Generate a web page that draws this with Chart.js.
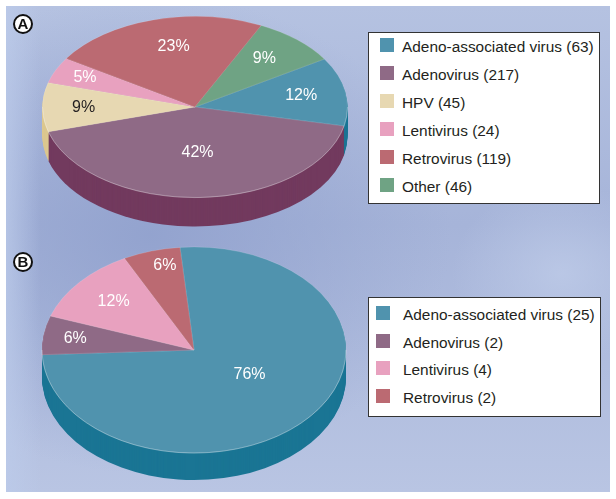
<!DOCTYPE html>
<html>
<head>
<meta charset="utf-8">
<title>Vector pies</title>
<script src="https://cdn.jsdelivr.net/npm/chart.js@4"></script>
<style>
  html, body { margin: 0; padding: 0; background: #fff; overflow: hidden; }
  body { width: 616px; height: 499px; position: relative; font-family: "Liberation Sans", Arial, sans-serif; }
  #panel {
    position: absolute; left: 6px; top: 6px; width: 604px; height: 486px;
    background:
      linear-gradient(90deg, rgba(188,203,234,.75), rgba(188,203,234,0) 34px),
      radial-gradient(ellipse 110px 90px at 92% 55%, rgba(190,203,232,.8), rgba(190,203,232,0) 100%),
      radial-gradient(ellipse 300px 240px at 24% 47%, rgba(146,162,206,.95), rgba(146,162,206,0) 100%),
      linear-gradient(180deg, #b5c2e1 0%, #a6b4d9 45%, #b9c5e3 100%);
  }
  canvas { position: absolute; left: 0; top: 0; }
  .legend { position: absolute; background: #fff; border: 1px solid #333; box-sizing: border-box; }
  .swatch { position: absolute; width: 14px; height: 14px; }
  .entry { position: absolute; font-size: 15.4px; line-height: 18px; color: #231f20; white-space: nowrap; }
  .tag {
    position: absolute; width: 20px; height: 20px; box-sizing: border-box; border-radius: 50%;
    background: #fff; border: 2px solid #111; color: #111; font-weight: bold; font-size: 15px;
    line-height: 16px; text-align: center;
  }
</style>
</head>
<body>
<div id="panel"></div>
<canvas id="pie-a" width="616" height="499"></canvas>
<canvas id="pie-b" width="616" height="499"></canvas>
<div class="tag" style="left:13px;top:14px">A</div>
<div class="tag" style="left:13px;top:252px">B</div>
<div id="legend-a"></div>
<div id="legend-b"></div>

<script>
// panel A
const categoriesA = ["Adeno-associated virus", "Adenovirus", "HPV", "Lentivirus", "Retrovirus", "Other"];
const valuesA = [63, 217, 45, 24, 119, 46];
const percentLabelsA = ["12%", "42%", "9%", "5%", "23%", "9%"];

// panel B
const categoriesB = ["Adeno-associated virus", "Adenovirus", "Lentivirus", "Retrovirus"];
const valuesB = [25, 2, 4, 2];
const percentLabelsB = ["76%", "6%", "12%", "6%"];

const topColors = {
  "Adeno-associated virus": "#5093ae",
  "Adenovirus": "#8f6a86",
  "HPV": "#e7d8b2",
  "Lentivirus": "#e8a1bf",
  "Retrovirus": "#bb6a72",
  "Other": "#6fa384"
};
const sideColors = {
  "Adeno-associated virus": "#1a7594",
  "Adenovirus": "#723a5e",
  "HPV": "#dcc78f",
  "Lentivirus": "#c97f9f",
  "Retrovirus": "#97474f",
  "Other": "#4c8063"
};

// flattens the pie and draws the side wall below it
const tiltedPie = {
  id: "tiltedPie",
  beforeDatasetsDraw(chart, args, opts) {
    const ctx = chart.ctx;
    const arcs = chart.getDatasetMeta(0).data;
    const cx = arcs[0].x, cy = arcs[0].y;
    for (let d = opts.depth; d >= 1; d--) {
      arcs.forEach((arc, i) => {
        ctx.save();
        ctx.translate(cx, cy + d);
        ctx.scale(1, opts.squash);
        ctx.beginPath();
        ctx.moveTo(0, 0);
        ctx.arc(0, 0, arc.outerRadius, arc.startAngle, arc.endAngle);
        ctx.closePath();
        ctx.fillStyle = opts.sides[i];
        ctx.fill();
        ctx.restore();
      });
    }
    ctx.save();
    ctx.translate(cx, cy);
    ctx.scale(1, opts.squash);
    ctx.translate(-cx, -cy);
  },
  afterDatasetsDraw(chart, args, opts) {
    const ctx = chart.ctx;
    const arcs = chart.getDatasetMeta(0).data;
    const cx = arcs[0].x, cy = arcs[0].y;
    // light rim on the front edge
    ctx.beginPath();
    ctx.arc(cx, cy, arcs[0].outerRadius, 0, Math.PI);
    ctx.restore();
    ctx.strokeStyle = "rgba(255,255,255,.35)";
    ctx.lineWidth = 0.8;
    ctx.stroke();

    ctx.font = "16px 'Liberation Sans', Arial, sans-serif";
    ctx.textAlign = "center";
    ctx.textBaseline = "middle";
    arcs.forEach((arc, i) => {
      const mid = (arc.startAngle + arc.endAngle) / 2;
      const r = arc.outerRadius * opts.labelRadii[i];
      const nudge = opts.labelNudges[i];
      ctx.fillStyle = opts.labelColors[i];
      ctx.fillText(opts.labels[i], cx + Math.cos(mid) * r + nudge[0], cy + Math.sin(mid) * r * opts.squash + nudge[1]);
    });
  }
};

function drawPie(id, categories, values, labels, setup) {
  new Chart(document.getElementById(id), {
    type: "pie",
    data: {
      labels: categories,
      datasets: [{
        data: values,
        backgroundColor: categories.map((c) => topColors[c]),
        borderColor: "rgba(240,240,245,.3)",
        borderWidth: 0.6,
        radius: setup.radius,
        clip: false
      }]
    },
    options: {
      responsive: false,
      animation: false,
      rotation: setup.rotation,
      layout: { padding: setup.padding },
      plugins: {
        legend: { display: false },
        tooltip: { enabled: false },
        tiltedPie: {
          squash: setup.squash,
          depth: setup.depth,
          sides: categories.map((c) => sideColors[c]),
          labels: labels,
          labelColors: setup.labelColors,
          labelRadii: setup.labelRadii,
          labelNudges: setup.labelNudges
        }
      }
    },
    plugins: [tiltedPie]
  });
}

function drawLegend(id, categories, values, box) {
  const el = document.getElementById(id);
  el.className = "legend";
  el.style.cssText = `left:${box.x}px;top:${box.y}px;width:${box.w}px;height:${box.h}px`;
  categories.forEach((c, i) => {
    const sw = document.createElement("div");
    sw.className = "swatch";
    sw.style.cssText = `left:${box.swatchX}px;top:${box.firstY + i * box.step}px;background:${topColors[c]}`;
    el.appendChild(sw);
    const tx = document.createElement("div");
    tx.className = "entry";
    tx.style.cssText = `left:${box.textX}px;top:${box.firstY + box.textDrop + i * box.step}px`;
    tx.textContent = `${c} (${values[i]})`;
    el.appendChild(tx);
  });
}

drawPie("pie-a", categoriesA, valuesA, percentLabelsA, {
  radius: 152.5, squash: 0.594, depth: 29, rotation: 58,
  padding: { left: 0, top: 0, right: 226, bottom: 285 },
  labelColors: ["#fff", "#fff", "#231f20", "#fff", "#fff", "#fff"],
  labelRadii: [0.7, 0.5, 0.73, 0.79, 0.68, 0.71],
  labelNudges: [[1, 0], [0, 0], [0, 0], [0, 0], [7, -1], [-3, -1]]
});
drawPie("pie-b", categoriesB, valuesB, percentLabelsB, {
  radius: 152, squash: 0.678, depth: 27, rotation: -5.3,
  padding: { left: 0, top: 201, right: 228, bottom: 0 },
  labelColors: ["#fff", "#fff", "#fff", "#fff"],
  labelRadii: [0.45, 0.79, 0.71, 0.85],
  labelNudges: [[4, -6], [0, 0], [1, 0], [7, 0]]
});

drawLegend("legend-a", categoriesA, valuesA, { x: 368, y: 32, w: 232, h: 172, swatchX: 11, textX: 33, firstY: 5, textDrop: 0, step: 28 });
drawLegend("legend-b", categoriesB, valuesB, { x: 368, y: 297, w: 233, h: 120, swatchX: 7, textX: 34, firstY: 8, textDrop: 0, step: 27.7 });
</script>
</body>
</html>
